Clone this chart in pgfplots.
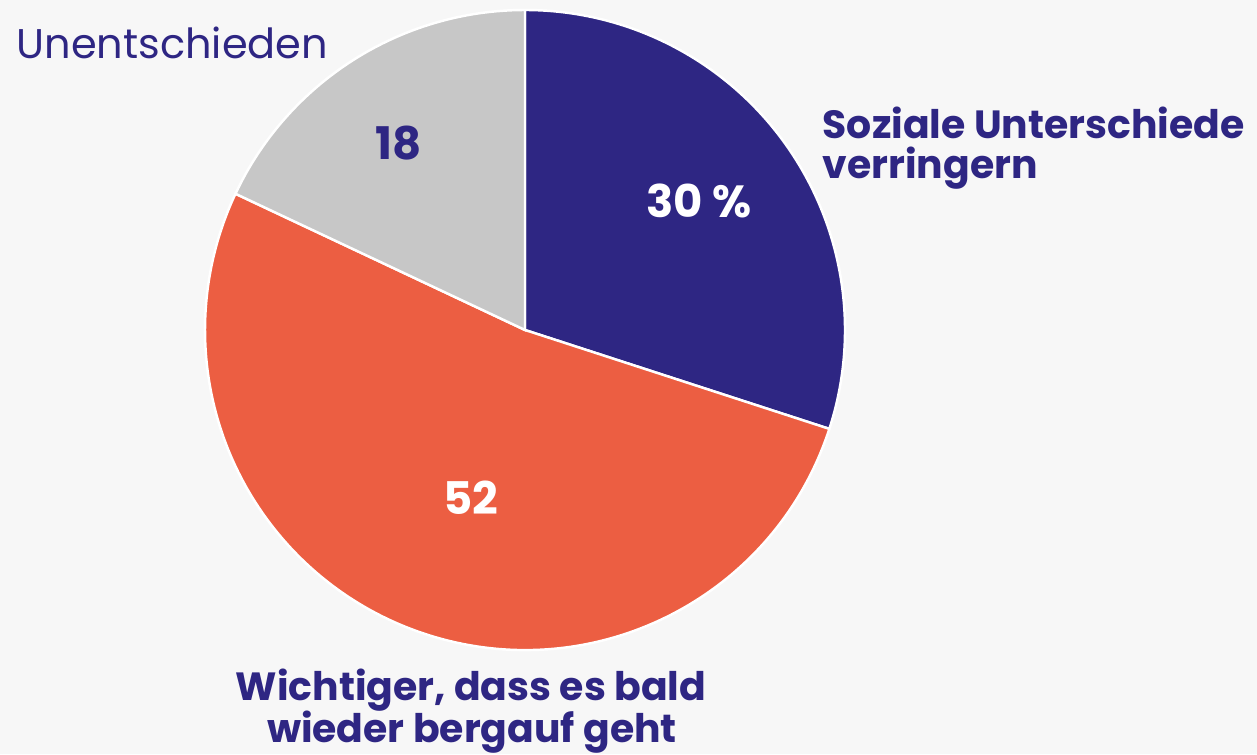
\documentclass[border=0pt]{standalone}
\usepackage{pgfplots}
\usepackage{pgfplotstable}
\pgfplotsset{compat=1.18}
\usepackage{fontspec}
\setmainfont{Poppins}

\definecolor{bgc}{HTML}{F7F7F7}
\definecolor{pieblue}{HTML}{2E2683}
\definecolor{pieorange}{HTML}{EC5E42}
\definecolor{piegray}{HTML}{C7C7C7}

\tikzset{lbl/.style={text=pieblue, inner sep=0pt, font=\fontsize{11.2}{13}\selectfont\bfseries}}

% shares in percent, clockwise from 12 o'clock
\pgfplotstableread{
label value
Soziale 30
Wichtiger 52
Unentschieden 18
}\piedata

\begin{document}
\begin{tikzpicture}
\pgfplotstablegetelem{0}{value}\of\piedata \let\va\pgfplotsretval
\pgfplotstablegetelem{1}{value}\of\piedata \let\vb\pgfplotsretval
\pgfplotstablegetelem{2}{value}\of\piedata \let\vc\pgfplotsretval
\pgfmathsetmacro{\aA}{90}
\pgfmathsetmacro{\aB}{90-3.6*\va}
\pgfmathsetmacro{\aC}{\aB-3.6*\vb}
\pgfmathsetmacro{\aD}{\aC-3.6*\vc}
\begin{axis}[
    width=12.57cm, height=7.54cm,
    scale only axis,
    xmin=0, xmax=1257, ymin=0, ymax=754,
    y dir=reverse,
    hide axis,
    clip=false,
]
\fill[bgc] (axis cs:0,0) rectangle (axis cs:1257,754);
\coordinate (bbA) at (axis cs:0,0);
\coordinate (bbB) at (axis cs:1257,754);

% wedges, radius 320 units = 3.2cm
\filldraw[pieblue, draw=white, line width=0.7pt]
  (axis cs:525,330) -- ++(\aA:3.2cm) arc[start angle=\aA, end angle=\aB, radius=3.2cm] -- cycle;
\filldraw[pieorange, draw=white, line width=0.7pt]
  (axis cs:525,330) -- ++(\aB:3.2cm) arc[start angle=\aB, end angle=\aC, radius=3.2cm] -- cycle;
\filldraw[piegray, draw=white, line width=0.7pt]
  (axis cs:525,330) -- ++(\aC:3.2cm) arc[start angle=\aC, end angle=\aD, radius=3.2cm] -- cycle;

% values
\node[font=\fontsize{12.8}{15}\selectfont\bfseries, text=white] at (axis cs:699,201) {30 \%};
\node[font=\fontsize{12.8}{15}\selectfont\bfseries, text=white] at (axis cs:471,498) {52};
\node[font=\fontsize{12.8}{15}\selectfont\bfseries, text=pieblue] at (axis cs:399,143) {18};

% labels
\node[anchor=base west, text=pieblue, inner sep=0pt, font=\fontsize{11.8}{13}\selectfont]
  at (axis cs:16,59) {Unentschieden};
\node[lbl, anchor=base west] at (axis cs:822,139) {Soziale Unterschiede};
\node[lbl, anchor=base west] at (axis cs:822,179) {verringern};
\node[lbl, anchor=base] at (axis cs:471,700) {Wichtiger, dass es bald};
\node[lbl, anchor=base] at (axis cs:472,742) {wieder bergauf geht};
\end{axis}
\pgfresetboundingbox
\useasboundingbox (bbA) rectangle (bbB);
\end{tikzpicture}
\end{document}
